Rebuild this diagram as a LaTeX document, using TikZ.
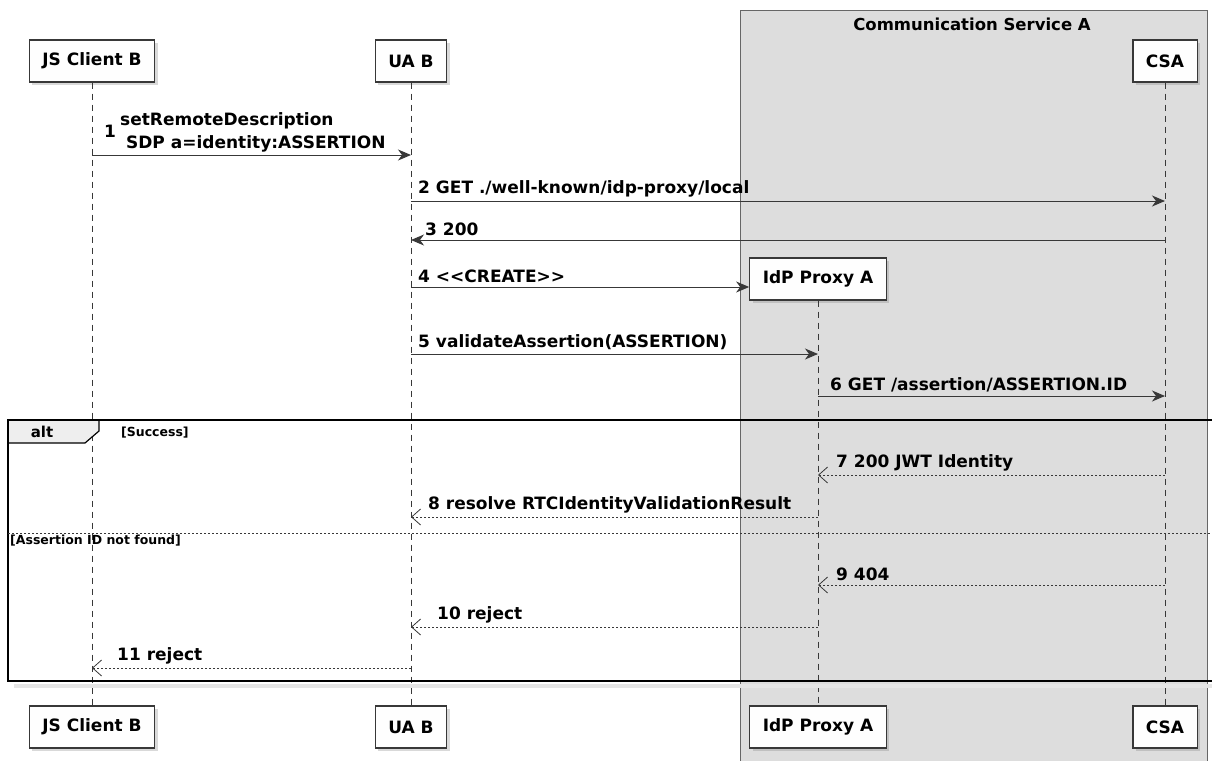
\documentclass[tikz,border=0pt]{standalone}
\usepackage{fontspec}
\setmainfont{DejaVu Sans}
\usetikzlibrary{arrows.meta, shadows, positioning}

\definecolor{linegray}{HTML}{383838}
\definecolor{boxgray}{HTML}{DDDDDD}
\definecolor{tabgray}{HTML}{EEEEEE}
\definecolor{actorfill}{HTML}{FEFEFE}

\tikzset{
  actor/.style={draw=linegray, fill=actorfill, line width=1.2pt, minimum height=42,
    inner xsep=13, font=\fontsize{17}{20}\selectfont\bfseries,
    drop shadow={opacity=0.3, shadow xshift=3pt, shadow yshift=-3pt}},
  life/.style={linegray, line width=0.8pt, dash pattern=on 6pt off 5pt},
  call/.style={linegray, line width=1pt, -{Stealth[length=13pt,width=11pt,inset=4pt]}},
  reply/.style={linegray, line width=0.8pt, dash pattern=on 2pt off 2pt,
    -{Straight Barb[length=9pt,width=16pt]}},
  lbl/.style={font=\fontsize{17}{23}\selectfont\bfseries, anchor=south west, inner sep=0pt},
  guard/.style={font=\fontsize{12.5}{15}\selectfont\bfseries, anchor=west, inner sep=0pt},
}

\begin{document}
\begin{tikzpicture}[x=1pt, y=-1pt]
\useasboundingbox (0,0) rectangle (1212,760);

% box for the service
\draw[fill=boxgray, draw=black!60] (740,10) rectangle (1207,770);
\node[font=\fontsize{16.5}{19}\selectfont\bfseries] (svcTitle) at (972,24) {Communication Service A};

% participants
\node[actor] (jsTop) at (92,61) {JS Client B};
\node[actor] (uaTop) at (411,61) {UA B};
\node[actor] (csaTop) at (1165,61) {CSA};
\node[actor] (idpTop) at (818,279) {IdP Proxy A};

\node[actor] (jsBot) at (92,727) {JS Client B};
\node[actor] (uaBot) at (411,727) {UA B};
\node[actor] (idpBot) at (818,727) {IdP Proxy A};
\node[actor] (csaBot) at (1165,727) {CSA};

% lifelines
\draw[life] (jsTop.south) -- (jsBot.north);
\draw[life] (uaTop.south) -- (uaBot.north);
\draw[life] (idpTop.south) -- (idpBot.north);
\draw[life] (csaTop.south) -- (csaBot.north);

% messages
\draw[call] (jsTop.south |- 0,155) -- (uaTop.south |- 0,155);
\node[lbl, anchor=west] (m1n) at (104,131) {1};
\node[lbl, align=left] (m1) at (120,152) {setRemoteDescription\\\ SDP a=identity:ASSERTION};

\draw[call] (uaTop.south |- 0,201) -- (csaTop.south |- 0,201);
\node[lbl] (m2) at (418,197) {2 GET ./well-known/idp-proxy/local};

\draw[call] (csaTop.south |- 0,240) -- (uaTop.south |- 0,240);
\node[lbl] (m3) at (425,236) {3 200};

\draw[call] (uaTop.south |- 0,287) -- (idpTop.west |- 0,287);
\node[lbl] (m4) at (418,283) {4 <{}<CREATE>{}>};

\draw[call] (uaTop.south |- 0,354) -- (idpTop.south |- 0,354);
\node[lbl] (m5) at (418,350) {5 validateAssertion(ASSERTION)};

\draw[call] (idpTop.south |- 0,396) -- (csaTop.south |- 0,396);
\node[lbl] (m6) at (830,392) {6 GET /assertion/ASSERTION.ID};

\draw[reply] (csaTop.south |- 0,475) -- (idpTop.south |- 0,475);
\node[lbl] (m7) at (836,471) {7 200 JWT Identity};

\draw[reply] (idpTop.south |- 0,517) -- (uaTop.south |- 0,517);
\node[lbl] (m8) at (428,513) {8 resolve RTCIdentityValidationResult};

\draw[reply] (csaTop.south |- 0,585) -- (idpTop.south |- 0,585);
\node[lbl] (m9) at (836,581) {9 404};

\draw[reply] (idpTop.south |- 0,627) -- (uaTop.south |- 0,627);
\node[lbl] (m10) at (437,623) {10 reject};

\draw[reply] (uaTop.south |- 0,668) -- (jsTop.south |- 0,668);
\node[lbl] (m11) at (117,664) {11 reject};

% alt fragment
\draw[black!10, line width=4pt] (14,686) -- (1214,686);
\draw[fill=tabgray, draw=black, line width=1.2pt] (8,420) -- (99,420) -- (99,431) -- (85,443) -- (8,443) -- cycle;
\draw[black, line width=2pt] (8,420) rectangle (1216,681);
\node[font=\fontsize{15}{18}\selectfont\bfseries] (altTab) at (42,432) {alt};
\node[guard] (g1) at (121,433) {[Success]};
\draw[linegray, line width=0.6pt, dash pattern=on 2pt off 2pt] (8,533) -- (1212,533);
\node[guard] (g2) at (10,541) {[Assertion ID not found]};
\end{tikzpicture}
\end{document}
